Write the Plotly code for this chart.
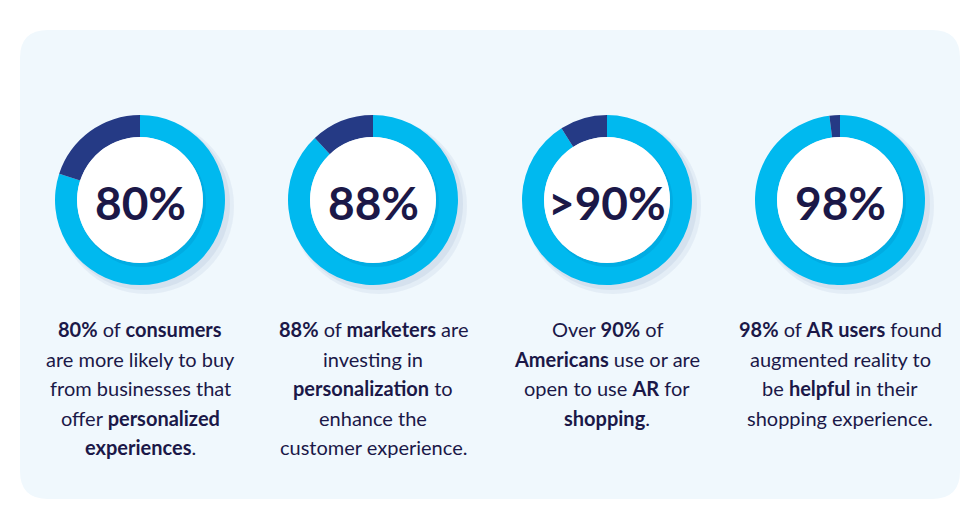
import plotly.graph_objects as go

# ---- data ----
labels = ["80%", "88%", ">90%", "98%"]
highlight_share = [80, 88, 91, 98]          # light-blue part of each ring
remainder_share = [20, 12, 9, 2]            # dark-navy part of each ring
captions = [
    ["<b>80%</b> of <b>consumers</b>", "are more likely to buy", "from businesses that",
     "offer <b>personalized</b>", "<b>experiences</b>."],
    ["<b>88%</b> of <b>marketers</b> are", "investing in", "<b>personalization</b> to",
     "enhance the", "customer experience."],
    ["Over <b>90%</b> of", "<b>Americans</b> use or are", "open to use <b>AR</b> for",
     "<b>shopping</b>."],
    ["<b>98%</b> of <b>AR users</b> found", "augmented reality to",
     "be <b>helpful</b> in their", "shopping experience."],
]

# ---- layout constants (pixels) ----
W, H = 980, 521
centers_x = [140, 373, 607, 840]
cy = 200
R_OUT = 85
R_IN = 63
LIGHT = "#00b9ef"
DARK = "#253a85"
TEXT = "#1b1848"
FONT = "Lato"

fig = go.Figure()

# invisible pixel-space axes
fig.add_trace(go.Scatter(x=[0, W], y=[0, H], mode="markers",
                         marker=dict(opacity=0), hoverinfo="skip", showlegend=False))

shapes = []
# panel with rounded corners
x0, y0, x1, y1, r = 20, 30, 960, 499, 28
path = (f"M {x0+r},{y0} L {x1-r},{y0} Q {x1},{y0} {x1},{y0+r} "
        f"L {x1},{y1-r} Q {x1},{y1} {x1-r},{y1} L {x0+r},{y1} "
        f"Q {x0},{y1} {x0},{y1-r} L {x0},{y0+r} Q {x0},{y0} {x0+r},{y0} Z")
shapes.append(dict(type="path", path=path, xref="x", yref="y",
                   fillcolor="#f0f8fd", line=dict(width=0), layer="below"))

for i, cx in enumerate(centers_x):
    # soft shadow behind ring
    for off, rr, op in [(6, 88, 0.18), (4, 86, 0.25)]:
        shapes.append(dict(type="circle", xref="x", yref="y",
                           x0=cx - rr + off, x1=cx + rr + off,
                           y0=cy - rr + off, y1=cy + rr + off,
                           fillcolor=f"rgba(170,190,215,{op})", line=dict(width=0),
                           layer="below"))
    fig.add_trace(go.Pie(
        values=[highlight_share[i], remainder_share[i]],
        labels=["share", "rest"],
        marker=dict(colors=[LIGHT, DARK], line=dict(width=0)),
        hole=0.74, sort=False, direction="clockwise", rotation=0,
        textinfo="none", hoverinfo="skip", showlegend=False,
        domain=dict(x=[(cx - R_OUT) / W, (cx + R_OUT) / W],
                    y=[1 - (cy + R_OUT) / H, 1 - (cy - R_OUT) / H]),
    ))
    # inner shadow + white disc
    shapes.append(dict(type="circle", xref="x", yref="y",
                       x0=cx - R_IN + 2, x1=cx + R_IN + 3, y0=cy - R_IN + 2, y1=cy + R_IN + 4,
                       fillcolor="rgba(0,80,140,0.12)", line=dict(width=0), layer="above"))
    shapes.append(dict(type="circle", xref="x", yref="y",
                       x0=cx - R_IN, x1=cx + R_IN, y0=cy - R_IN, y1=cy + R_IN,
                       fillcolor="#ffffff", line=dict(width=0), layer="above"))

annotations = []
for i, cx in enumerate(centers_x):
    annotations.append(dict(x=cx, y=cy + 2, xref="x", yref="y", text=f"<b>{labels[i]}</b>",
                            showarrow=False, xanchor="center", yanchor="middle",
                            font=dict(family=FONT, size=46, color=TEXT)))
    for j, line in enumerate(captions[i]):
        annotations.append(dict(x=cx, y=329 + j * 29.5, xref="x", yref="y", text=line,
                                showarrow=False, xanchor="center", yanchor="middle",
                                font=dict(family=FONT, size=20, color=TEXT)))

fig.update_layout(
    width=W, height=H, margin=dict(l=0, r=0, t=0, b=0),
    paper_bgcolor="#ffffff", plot_bgcolor="rgba(0,0,0,0)",
    xaxis=dict(range=[0, W], visible=False, fixedrange=True),
    yaxis=dict(range=[H, 0], visible=False, fixedrange=True),
    shapes=shapes, annotations=annotations,
)

fig.write_html("out.html")
